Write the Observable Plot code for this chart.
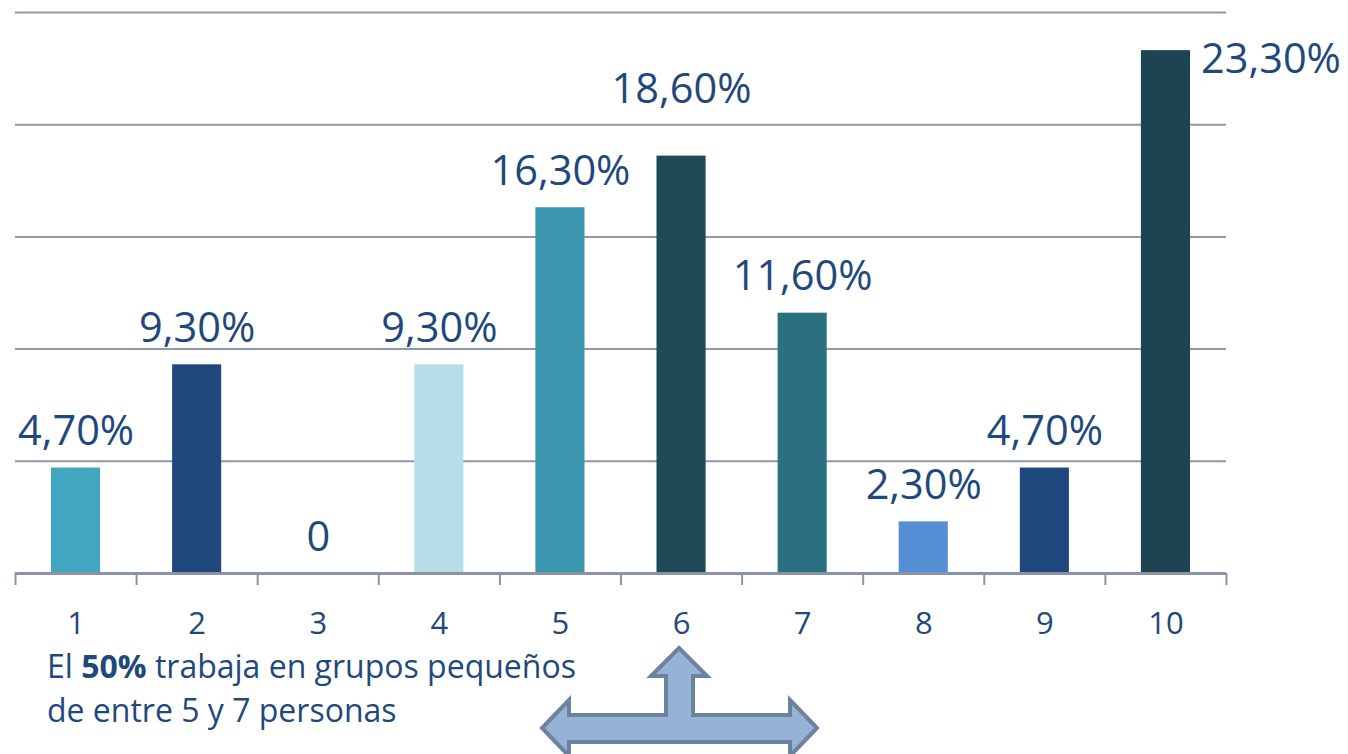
<!DOCTYPE html>
<html>
<head>
<meta charset="utf-8">
<script src="https://cdn.jsdelivr.net/npm/d3@7"></script>
<script src="https://cdn.jsdelivr.net/npm/@observablehq/plot@0.6"></script>
<style>
  html, body { margin: 0; padding: 0; background: #ffffff; }
  #wrap { position: relative; width: 1348px; height: 754px; overflow: hidden; background: #ffffff; }
  #chart { position: absolute; left: 0; top: 0; }
  #caption {
    position: absolute; left: 47px; top: 644px;
    font-family: "Open Sans", sans-serif; font-size: 32px; line-height: 44px;
    color: #1F497D; white-space: nowrap;
  }
  #caption b { font-weight: 700; }
  #arrow { position: absolute; left: 0; top: 0; pointer-events: none; }
</style>
</head>
<body>
<div id="wrap">
  <div id="chart"></div>
  <div id="caption">El <b>50%</b> trabaja en grupos pequeños<br>de entre 5 y 7 personas</div>
  <svg id="arrow" width="1348" height="754" viewBox="0 0 1348 754">
    <path d="M679,648 L707,676 L693,676 L693,715 L790,715 L790,700 L817,728 L790,756 L790,742 L569,742 L569,756 L542,728 L569,700 L569,715 L666,715 L666,676 L651,676 Z"
          fill="#95B3D7" stroke="#6E829E" stroke-width="4" stroke-linejoin="miter"/>
  </svg>
</div>
<script>
// ---- data ----
const categories = [1, 2, 3, 4, 5, 6, 7, 8, 9, 10];
const values = [4.7, 9.3, 0, 9.3, 16.3, 18.6, 11.6, 2.3, 4.7, 23.3];
const valueLabels = ["4,70%", "9,30%", "0", "9,30%", "16,30%", "18,60%", "11,60%", "2,30%", "4,70%", "23,30%"];
const tickLabels = ["1", "2", "3", "4", "5", "6", "7", "8", "9", "10"];
const barColors = ["#43A6C1", "#1F497D", "#1F497D", "#B7DEE8", "#3B96AE", "#1E4A56", "#2A7080", "#558ED5", "#1F497D", "#1D4450"];
const gridValues = [5, 10, 15, 20, 25];
const tickEdges = [0.5, 1.5, 2.5, 3.5, 4.5, 5.5, 6.5, 7.5, 8.5, 9.5, 10.5];

const data = categories.map((c, i) => ({c, v: values[i], label: valueLabels[i], color: barColors[i]}));
const raised = [6];      // label lifted higher
const outside = [10];    // label placed to the right of the bar
const normal = data.filter(d => !raised.includes(d.c) && !outside.includes(d.c));

const textColor = "#1F497D";

const chart = Plot.plot({
  width: 1348,
  height: 646,
  marginLeft: 15,
  marginRight: 122,
  marginTop: 12,
  marginBottom: 73,
  x: {domain: [0.5, 10.5], axis: null},
  y: {domain: [0, 25], axis: null},
  style: {fontFamily: "'Open Sans', sans-serif", background: "#ffffff", color: textColor, overflow: "visible"},
  marks: [
    Plot.ruleY(gridValues, {stroke: "#8E97AB", strokeWidth: 2}),
    Plot.rectY(data, {x1: d => d.c - 0.5, x2: d => d.c + 0.5, y: "v", fill: "color", insetLeft: 36, insetRight: 36}),
    Plot.ruleY([0], {stroke: "#8A93A8", strokeWidth: 3}),
    Plot.axisX(tickEdges, {tickSize: 12, tickFormat: () => "", label: null, stroke: "#8A93A8", strokeWidth: 2}),
    Plot.axisX(categories, {tickSize: 0, tickPadding: 38, fontSize: 31, fill: textColor, label: null,
      tickFormat: d => tickLabels[categories.indexOf(d)]}),
    Plot.text(normal, {x: "c", y: "v", text: "label", lineAnchor: "bottom", dy: -23, fontSize: 41.5, fill: textColor}),
    Plot.text(data.filter(d => raised.includes(d.c)), {x: "c", y: "v", text: "label", lineAnchor: "bottom", dy: -53, fontSize: 41.5, fill: textColor}),
    Plot.text(data.filter(d => outside.includes(d.c)), {x: "c", y: "v", text: "label", lineAnchor: "bottom", textAnchor: "start", dx: 35, dy: 22, fontSize: 41.5, fill: textColor})
  ]
});
document.getElementById("chart").appendChild(chart);
</script>
</body>
</html>
